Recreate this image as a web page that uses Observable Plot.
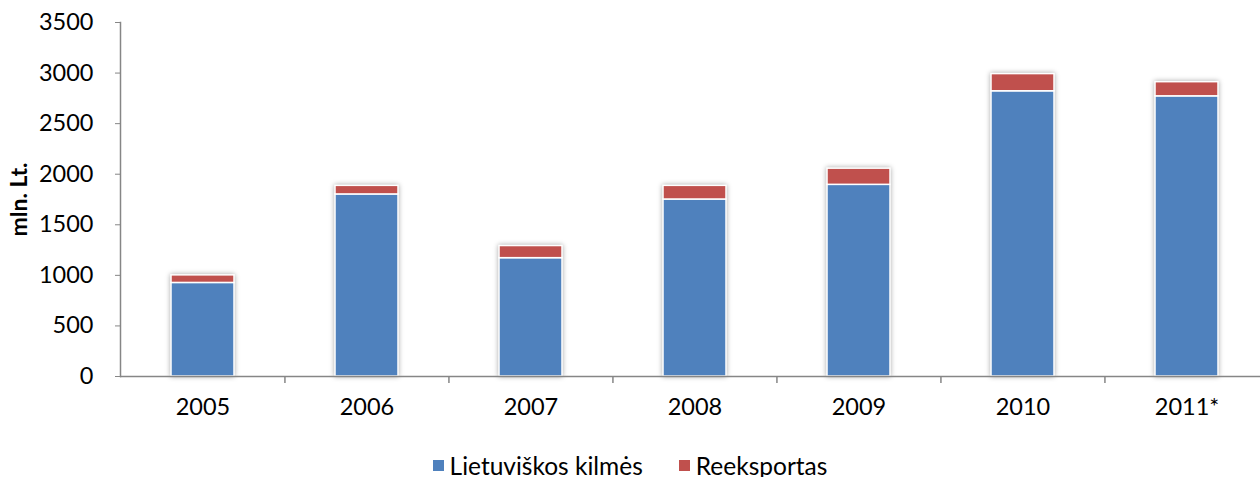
<!DOCTYPE html>
<html>
<head>
<meta charset="utf-8">
<script src="https://cdn.jsdelivr.net/npm/d3@7"></script>
<script src="https://cdn.jsdelivr.net/npm/@observablehq/plot@0.6"></script>
<style>
  html, body { margin: 0; padding: 0; background: #fff; }
  body { width: 1260px; height: 477px; overflow: hidden; font-family: Lato, "Open Sans", sans-serif; }
  #chart svg { display: block; overflow: hidden; }
  g[aria-label="y-axis label"] text { font-weight: bold; font-size: 23px; }
  g[aria-label="bar"] { filter: drop-shadow(0px 0px 2.5px rgba(0,0,0,0.35)); }
  .legend { display: flex; justify-content: center; align-items: center; height: 37px; font-size: 24.5px; color: #000; padding-top: 13px; box-sizing: border-box; }
  .legend .item { display: flex; align-items: center; margin: 0 18px; }
  .legend .sw { width: 11px; height: 11px; margin-right: 6px; }
</style>
</head>
<body>
<div id="chart"></div>
<script>
const years = ["2005", "2006", "2007", "2008", "2009", "2010", "2011*"];
const seriesNames = ["Lietuviškos kilmės", "Reeksportas"];
const domestic = [925, 1800, 1170, 1750, 1895, 2820, 2770];
const reexport = [75, 85, 120, 135, 160, 170, 140];
const yTicks = [0, 500, 1000, 1500, 2000, 2500, 3000, 3500];
const colors = ["#4F81BD", "#C0504D"];

const data = [];
years.forEach((y, i) => {
  data.push({year: y, series: seriesNames[0], value: domestic[i]});
  data.push({year: y, series: seriesNames[1], value: reexport[i]});
});

const W = 1260, H = 440, mL = 120, mR = -9, mT = 22, mB = 64;
const step = (W - mL - mR) / years.length;
const axisColor = "#868686";

const chart = Plot.plot({
  width: W,
  height: H,
  marginLeft: mL,
  marginRight: mR,
  marginTop: mT,
  marginBottom: mB,
  style: {fontFamily: "Lato, 'Open Sans', sans-serif", fontSize: "23.5px", color: "#000", background: "#fff"},
  x: {domain: years, paddingInner: 0.615, paddingOuter: 0.3075, label: null},
  y: {domain: [0, 3500], label: null},
  color: {domain: seriesNames, range: colors},
  marks: [
    Plot.barY(data, {x: "year", y: "value", fill: "series", stroke: "white", strokeWidth: 1.5}),
    Plot.frame({anchor: "left", stroke: axisColor, strokeWidth: 1.5}),
    Plot.ruleY([0], {stroke: axisColor, strokeWidth: 1.5}),
    Plot.axisY({ticks: yTicks, tickFormat: d => String(d), tickSize: 5, tickPadding: 22, stroke: axisColor, fill: "#000",
      label: "mln. Lt.", labelAnchor: "center", labelArrow: "none", labelOffset: 110}),
    Plot.axisX({tickSize: 0, tickPadding: 22, fill: "#000"}),
    Plot.ruleX(years.slice(1), {x: d => d, dx: -step / 2, y1: 0, y2: 0, insetBottom: -7, stroke: axisColor, strokeWidth: 1.5})
  ]
});
document.getElementById("chart").appendChild(chart);

const legend = document.createElement("div");
legend.className = "legend";
seriesNames.forEach((name, i) => {
  const item = document.createElement("div");
  item.className = "item";
  const sw = document.createElement("div");
  sw.className = "sw";
  sw.style.background = colors[i];
  const t = document.createElement("span");
  t.textContent = name;
  item.appendChild(sw);
  item.appendChild(t);
  legend.appendChild(item);
});
document.body.appendChild(legend);
</script>
</body>
</html>
